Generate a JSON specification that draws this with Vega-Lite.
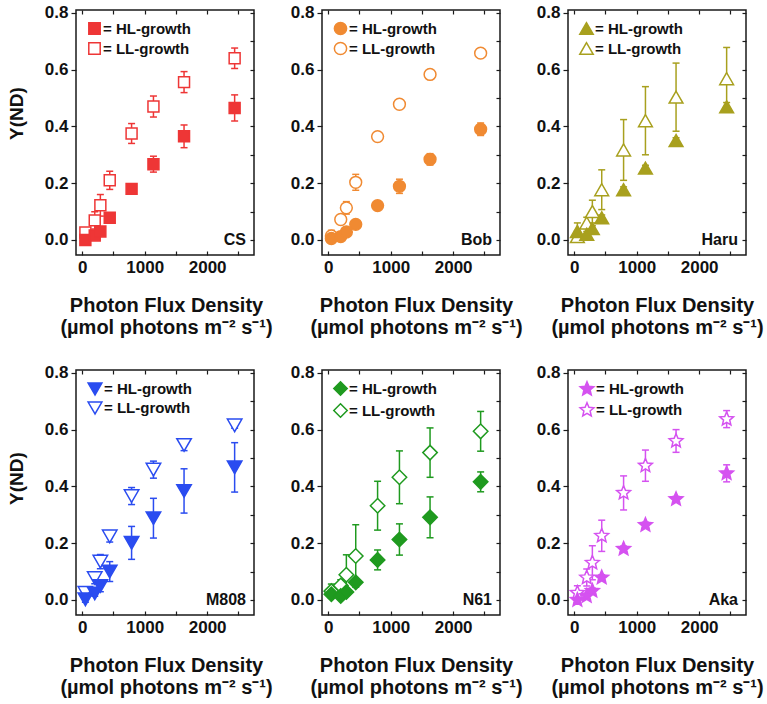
{
  "$schema": "https://vega.github.io/schema/vega-lite/v6.json",
  "background": "white",
  "padding": {"left": 6, "top": 3, "right": 0, "bottom": 0},
  "data": {"values": [
    {"s":"CS","g":"LL-growth","x":50,"y":0.026,"lo":0.011,"hi":0.041},
    {"s":"CS","g":"LL-growth","x":200,"y":0.069,"lo":0.039,"hi":0.099},
    {"s":"CS","g":"LL-growth","x":290,"y":0.122,"lo":0.084,"hi":0.160},
    {"s":"CS","g":"LL-growth","x":440,"y":0.210,"lo":0.178,"hi":0.242},
    {"s":"CS","g":"LL-growth","x":790,"y":0.375,"lo":0.340,"hi":0.410},
    {"s":"CS","g":"LL-growth","x":1140,"y":0.470,"lo":0.433,"hi":0.507},
    {"s":"CS","g":"LL-growth","x":1630,"y":0.556,"lo":0.519,"hi":0.593},
    {"s":"CS","g":"LL-growth","x":2440,"y":0.640,"lo":0.604,"hi":0.676},
    {"s":"CS","g":"HL-growth","x":50,"y":0.000,"lo":-0.008,"hi":0.008},
    {"s":"CS","g":"HL-growth","x":200,"y":0.016,"lo":0.006,"hi":0.026},
    {"s":"CS","g":"HL-growth","x":290,"y":0.030,"lo":0.020,"hi":0.040},
    {"s":"CS","g":"HL-growth","x":440,"y":0.078,"lo":0.068,"hi":0.088},
    {"s":"CS","g":"HL-growth","x":790,"y":0.180,"lo":0.165,"hi":0.195},
    {"s":"CS","g":"HL-growth","x":1140,"y":0.267,"lo":0.239,"hi":0.295},
    {"s":"CS","g":"HL-growth","x":1630,"y":0.365,"lo":0.325,"hi":0.405},
    {"s":"CS","g":"HL-growth","x":2440,"y":0.465,"lo":0.419,"hi":0.511},

    {"s":"Bob","g":"LL-growth","x":50,"y":0.014,"lo":-0.006,"hi":0.034},
    {"s":"Bob","g":"LL-growth","x":200,"y":0.072,"lo":0.062,"hi":0.082},
    {"s":"Bob","g":"LL-growth","x":290,"y":0.113,"lo":0.091,"hi":0.135},
    {"s":"Bob","g":"LL-growth","x":440,"y":0.203,"lo":0.175,"hi":0.231},
    {"s":"Bob","g":"LL-growth","x":790,"y":0.364,"lo":0.356,"hi":0.372},
    {"s":"Bob","g":"LL-growth","x":1140,"y":0.478,"lo":0.468,"hi":0.488},
    {"s":"Bob","g":"LL-growth","x":1630,"y":0.583,"lo":0.571,"hi":0.595},
    {"s":"Bob","g":"LL-growth","x":2440,"y":0.658,"lo":0.650,"hi":0.666},
    {"s":"Bob","g":"HL-growth","x":50,"y":0.005,"lo":0.000,"hi":0.010},
    {"s":"Bob","g":"HL-growth","x":200,"y":0.012,"lo":0.007,"hi":0.017},
    {"s":"Bob","g":"HL-growth","x":290,"y":0.028,"lo":0.020,"hi":0.036},
    {"s":"Bob","g":"HL-growth","x":440,"y":0.055,"lo":0.047,"hi":0.063},
    {"s":"Bob","g":"HL-growth","x":790,"y":0.121,"lo":0.109,"hi":0.133},
    {"s":"Bob","g":"HL-growth","x":1140,"y":0.189,"lo":0.164,"hi":0.214},
    {"s":"Bob","g":"HL-growth","x":1630,"y":0.284,"lo":0.264,"hi":0.304},
    {"s":"Bob","g":"HL-growth","x":2440,"y":0.390,"lo":0.368,"hi":0.412},

    {"s":"Haru","g":"LL-growth","x":50,"y":0.012,"lo":-0.008,"hi":0.032},
    {"s":"Haru","g":"LL-growth","x":200,"y":0.060,"lo":0.040,"hi":0.080},
    {"s":"Haru","g":"LL-growth","x":290,"y":0.100,"lo":0.060,"hi":0.140},
    {"s":"Haru","g":"LL-growth","x":440,"y":0.177,"lo":0.107,"hi":0.247},
    {"s":"Haru","g":"LL-growth","x":790,"y":0.317,"lo":0.210,"hi":0.424},
    {"s":"Haru","g":"LL-growth","x":1140,"y":0.420,"lo":0.300,"hi":0.540},
    {"s":"Haru","g":"LL-growth","x":1630,"y":0.503,"lo":0.383,"hi":0.623},
    {"s":"Haru","g":"LL-growth","x":2440,"y":0.568,"lo":0.458,"hi":0.678},
    {"s":"Haru","g":"HL-growth","x":50,"y":0.030,"lo":0.000,"hi":0.060},
    {"s":"Haru","g":"HL-growth","x":200,"y":0.020,"lo":0.010,"hi":0.030},
    {"s":"Haru","g":"HL-growth","x":290,"y":0.040,"lo":0.030,"hi":0.050},
    {"s":"Haru","g":"HL-growth","x":440,"y":0.078,"lo":0.068,"hi":0.088},
    {"s":"Haru","g":"HL-growth","x":790,"y":0.177,"lo":0.167,"hi":0.187},
    {"s":"Haru","g":"HL-growth","x":1140,"y":0.253,"lo":0.243,"hi":0.263},
    {"s":"Haru","g":"HL-growth","x":1630,"y":0.350,"lo":0.340,"hi":0.360},
    {"s":"Haru","g":"HL-growth","x":2440,"y":0.469,"lo":0.454,"hi":0.484},

    {"s":"M808","g":"LL-growth","x":50,"y":0.025,"lo":0.015,"hi":0.035},
    {"s":"M808","g":"LL-growth","x":200,"y":0.077,"lo":0.057,"hi":0.097},
    {"s":"M808","g":"LL-growth","x":290,"y":0.135,"lo":0.110,"hi":0.160},
    {"s":"M808","g":"LL-growth","x":440,"y":0.224,"lo":0.204,"hi":0.244},
    {"s":"M808","g":"LL-growth","x":790,"y":0.366,"lo":0.336,"hi":0.396},
    {"s":"M808","g":"LL-growth","x":1140,"y":0.459,"lo":0.429,"hi":0.489},
    {"s":"M808","g":"LL-growth","x":1630,"y":0.546,"lo":0.526,"hi":0.566},
    {"s":"M808","g":"LL-growth","x":2440,"y":0.615,"lo":0.605,"hi":0.625},
    {"s":"M808","g":"HL-growth","x":50,"y":0.002,"lo":-0.008,"hi":0.012},
    {"s":"M808","g":"HL-growth","x":200,"y":0.023,"lo":0.013,"hi":0.033},
    {"s":"M808","g":"HL-growth","x":290,"y":0.049,"lo":0.029,"hi":0.069},
    {"s":"M808","g":"HL-growth","x":440,"y":0.100,"lo":0.065,"hi":0.135},
    {"s":"M808","g":"HL-growth","x":790,"y":0.201,"lo":0.143,"hi":0.259},
    {"s":"M808","g":"HL-growth","x":1140,"y":0.288,"lo":0.218,"hi":0.358},
    {"s":"M808","g":"HL-growth","x":1630,"y":0.384,"lo":0.306,"hi":0.462},
    {"s":"M808","g":"HL-growth","x":2440,"y":0.467,"lo":0.380,"hi":0.554},

    {"s":"N61","g":"LL-growth","x":50,"y":0.031,"lo":0.006,"hi":0.056},
    {"s":"N61","g":"LL-growth","x":200,"y":0.051,"lo":0.031,"hi":0.071},
    {"s":"N61","g":"LL-growth","x":290,"y":0.089,"lo":0.019,"hi":0.159},
    {"s":"N61","g":"LL-growth","x":440,"y":0.155,"lo":0.045,"hi":0.265},
    {"s":"N61","g":"LL-growth","x":790,"y":0.332,"lo":0.246,"hi":0.418},
    {"s":"N61","g":"LL-growth","x":1140,"y":0.432,"lo":0.339,"hi":0.525},
    {"s":"N61","g":"LL-growth","x":1630,"y":0.519,"lo":0.432,"hi":0.606},
    {"s":"N61","g":"LL-growth","x":2440,"y":0.594,"lo":0.524,"hi":0.664},
    {"s":"N61","g":"HL-growth","x":50,"y":0.020,"lo":0.010,"hi":0.030},
    {"s":"N61","g":"HL-growth","x":200,"y":0.014,"lo":0.004,"hi":0.024},
    {"s":"N61","g":"HL-growth","x":290,"y":0.028,"lo":0.018,"hi":0.038},
    {"s":"N61","g":"HL-growth","x":440,"y":0.062,"lo":0.052,"hi":0.072},
    {"s":"N61","g":"HL-growth","x":790,"y":0.141,"lo":0.106,"hi":0.176},
    {"s":"N61","g":"HL-growth","x":1140,"y":0.213,"lo":0.158,"hi":0.268},
    {"s":"N61","g":"HL-growth","x":1630,"y":0.291,"lo":0.219,"hi":0.363},
    {"s":"N61","g":"HL-growth","x":2440,"y":0.416,"lo":0.381,"hi":0.451},

    {"s":"Aka","g":"LL-growth","x":50,"y":0.025,"lo":0.000,"hi":0.050},
    {"s":"Aka","g":"LL-growth","x":200,"y":0.079,"lo":0.049,"hi":0.109},
    {"s":"Aka","g":"LL-growth","x":290,"y":0.131,"lo":0.071,"hi":0.191},
    {"s":"Aka","g":"LL-growth","x":440,"y":0.226,"lo":0.171,"hi":0.281},
    {"s":"Aka","g":"LL-growth","x":790,"y":0.377,"lo":0.317,"hi":0.437},
    {"s":"Aka","g":"LL-growth","x":1140,"y":0.473,"lo":0.418,"hi":0.528},
    {"s":"Aka","g":"LL-growth","x":1630,"y":0.560,"lo":0.520,"hi":0.600},
    {"s":"Aka","g":"LL-growth","x":2440,"y":0.637,"lo":0.607,"hi":0.667},
    {"s":"Aka","g":"HL-growth","x":50,"y":0.000,"lo":-0.010,"hi":0.010},
    {"s":"Aka","g":"HL-growth","x":200,"y":0.014,"lo":0.004,"hi":0.024},
    {"s":"Aka","g":"HL-growth","x":290,"y":0.032,"lo":0.022,"hi":0.042},
    {"s":"Aka","g":"HL-growth","x":440,"y":0.079,"lo":0.069,"hi":0.089},
    {"s":"Aka","g":"HL-growth","x":790,"y":0.180,"lo":0.170,"hi":0.190},
    {"s":"Aka","g":"HL-growth","x":1140,"y":0.264,"lo":0.254,"hi":0.274},
    {"s":"Aka","g":"HL-growth","x":1630,"y":0.355,"lo":0.345,"hi":0.365},
    {"s":"Aka","g":"HL-growth","x":2440,"y":0.446,"lo":0.416,"hi":0.476}
  ]},
  "columns": 3,
  "spacing": {"row": 115, "column": 68},
  "bounds": "flush",
  "resolve": {"scale": {"fill": "independent"}, "legend": {"fill": "independent"}},
  "concat": [
    {
      "width": 178, "height": 245,
      "transform": [{"filter": "datum.s === 'CS'"}],
      "layer": [
        {"mark": {"type": "rule", "color": "#ee3636", "strokeWidth": 1.5},
         "encoding": {
           "x": {"field": "x", "type": "quantitative", "scale": {"domain": [-100, 2750], "nice": false, "zero": false},
                 "axis": {"orient": "bottom", "values": [0,500,1000,1500,2000,2500], "format": "d", "labelExpr": "datum.value % 1000 === 0 ? datum.label : ''", "tickSize": -4, "labelPadding": 8, "titleX": 90, "title": ["Photon Flux Density", "(µmol photons m⁻² s⁻¹)"]}},
           "y": {"field": "lo", "type": "quantitative", "scale": {"domain": [-0.053, 0.81], "nice": false, "zero": false},
                 "axis": {"orient": "left", "values": [0,0.2,0.4,0.6,0.8], "format": ".1f", "tickSize": 5, "labelPadding": 3, "titleY": 103, "title": "Y(ND)"}},
           "y2": {"field": "hi"}}},
        {"mark": {"type": "tick", "orient": "horizontal", "color": "#ee3636", "thickness": 1.5, "size": 7, "opacity": 1},
         "encoding": {
           "x": {"field": "x", "type": "quantitative", "axis": {"orient": "top", "values": [0,500,1000,1500,2000,2500], "labels": false, "tickSize": -4, "title": null}},
           "y": {"field": "hi", "type": "quantitative", "axis": {"orient": "right", "values": [0,0.1,0.2,0.3,0.4,0.5,0.6,0.7,0.8], "labels": false, "tickSize": -4, "title": null}}}},
        {"mark": {"type": "tick", "orient": "horizontal", "color": "#ee3636", "thickness": 1.5, "size": 7, "opacity": 1},
         "encoding": {
           "x": {"field": "x", "type": "quantitative", "axis": null},
           "y": {"field": "lo", "type": "quantitative", "axis": null}}},
        {"mark": {"type": "point", "shape": "square", "size": 120, "filled": true, "opacity": 1, "stroke": "#ee3636", "strokeWidth": 1.5},
         "encoding": {
           "x": {"field": "x", "type": "quantitative", "axis": null},
           "y": {"field": "y", "type": "quantitative", "axis": null},
           "fill": {"field": "g", "type": "nominal", "scale": {"domain": ["HL-growth", "LL-growth"], "range": ["#ee3636", "white"]},
                    "legend": {"labelExpr": "'= ' + datum.label", "symbolType": "square", "symbolStrokeColor": "#ee3636", "symbolSize": 130}}}},
        {"transform": [{"aggregate": [{"op": "count", "as": "n"}], "groupby": ["s"]}],
         "mark": {"type": "text", "align": "right", "baseline": "middle", "dx": -8, "font": "Liberation Sans", "fontWeight": "bold", "fontSize": 16, "color": "#111"},
         "encoding": {
           "x": {"datum": 2750, "type": "quantitative", "axis": null},
           "y": {"datum": 0, "type": "quantitative", "axis": null},
           "text": {"field": "s"}}}
      ]
    },
    {
      "width": 178, "height": 245,
      "transform": [{"filter": "datum.s === 'Bob'"}],
      "layer": [
        {"mark": {"type": "rule", "color": "#f08a32", "strokeWidth": 1.5},
         "encoding": {
           "x": {"field": "x", "type": "quantitative", "scale": {"domain": [-100, 2750], "nice": false, "zero": false},
                 "axis": {"orient": "bottom", "values": [0,500,1000,1500,2000,2500], "format": "d", "labelExpr": "datum.value % 1000 === 0 ? datum.label : ''", "tickSize": -4, "labelPadding": 8, "titleX": 94, "title": ["Photon Flux Density", "(µmol photons m⁻² s⁻¹)"]}},
           "y": {"field": "lo", "type": "quantitative", "scale": {"domain": [-0.053, 0.81], "nice": false, "zero": false},
                 "axis": {"orient": "left", "values": [0,0.2,0.4,0.6,0.8], "format": ".1f", "tickSize": 5, "labelPadding": 3, "title": null}},
           "y2": {"field": "hi"}}},
        {"mark": {"type": "tick", "orient": "horizontal", "color": "#f08a32", "thickness": 1.5, "size": 7, "opacity": 1},
         "encoding": {
           "x": {"field": "x", "type": "quantitative", "axis": {"orient": "top", "values": [0,500,1000,1500,2000,2500], "labels": false, "tickSize": -4, "title": null}},
           "y": {"field": "hi", "type": "quantitative", "axis": {"orient": "right", "values": [0,0.1,0.2,0.3,0.4,0.5,0.6,0.7,0.8], "labels": false, "tickSize": -4, "title": null}}}},
        {"mark": {"type": "tick", "orient": "horizontal", "color": "#f08a32", "thickness": 1.5, "size": 7, "opacity": 1},
         "encoding": {
           "x": {"field": "x", "type": "quantitative", "axis": null},
           "y": {"field": "lo", "type": "quantitative", "axis": null}}},
        {"mark": {"type": "point", "shape": "circle", "size": 140, "filled": true, "opacity": 1, "stroke": "#f08a32", "strokeWidth": 1.5},
         "encoding": {
           "x": {"field": "x", "type": "quantitative", "axis": null},
           "y": {"field": "y", "type": "quantitative", "axis": null},
           "fill": {"field": "g", "type": "nominal", "scale": {"domain": ["HL-growth", "LL-growth"], "range": ["#f08a32", "white"]},
                    "legend": {"labelExpr": "'= ' + datum.label", "symbolType": "circle", "symbolStrokeColor": "#f08a32", "symbolSize": 150}}}},
        {"transform": [{"aggregate": [{"op": "count", "as": "n"}], "groupby": ["s"]}],
         "mark": {"type": "text", "align": "right", "baseline": "middle", "dx": -8, "font": "Liberation Sans", "fontWeight": "bold", "fontSize": 16, "color": "#111"},
         "encoding": {
           "x": {"datum": 2750, "type": "quantitative", "axis": null},
           "y": {"datum": 0, "type": "quantitative", "axis": null},
           "text": {"field": "s"}}}
      ]
    },
    {
      "width": 178, "height": 245,
      "transform": [{"filter": "datum.s === 'Haru'"}],
      "layer": [
        {"mark": {"type": "rule", "color": "#a8a01e", "strokeWidth": 1.5},
         "encoding": {
           "x": {"field": "x", "type": "quantitative", "scale": {"domain": [-100, 2750], "nice": false, "zero": false},
                 "axis": {"orient": "bottom", "values": [0,500,1000,1500,2000,2500], "format": "d", "labelExpr": "datum.value % 1000 === 0 ? datum.label : ''", "tickSize": -4, "labelPadding": 8, "titleX": 89, "title": ["Photon Flux Density", "(µmol photons m⁻² s⁻¹)"]}},
           "y": {"field": "lo", "type": "quantitative", "scale": {"domain": [-0.053, 0.81], "nice": false, "zero": false},
                 "axis": {"orient": "left", "values": [0,0.2,0.4,0.6,0.8], "format": ".1f", "tickSize": 5, "labelPadding": 3, "title": null}},
           "y2": {"field": "hi"}}},
        {"mark": {"type": "tick", "orient": "horizontal", "color": "#a8a01e", "thickness": 1.5, "size": 7, "opacity": 1},
         "encoding": {
           "x": {"field": "x", "type": "quantitative", "axis": {"orient": "top", "values": [0,500,1000,1500,2000,2500], "labels": false, "tickSize": -4, "title": null}},
           "y": {"field": "hi", "type": "quantitative", "axis": {"orient": "right", "values": [0,0.1,0.2,0.3,0.4,0.5,0.6,0.7,0.8], "labels": false, "tickSize": -4, "title": null}}}},
        {"mark": {"type": "tick", "orient": "horizontal", "color": "#a8a01e", "thickness": 1.5, "size": 7, "opacity": 1},
         "encoding": {
           "x": {"field": "x", "type": "quantitative", "axis": null},
           "y": {"field": "lo", "type": "quantitative", "axis": null}}},
        {"mark": {"type": "point", "shape": "triangle-up", "size": 190, "filled": true, "opacity": 1, "stroke": "#a8a01e", "strokeWidth": 1.5},
         "encoding": {
           "x": {"field": "x", "type": "quantitative", "axis": null},
           "y": {"field": "y", "type": "quantitative", "axis": null},
           "fill": {"field": "g", "type": "nominal", "scale": {"domain": ["HL-growth", "LL-growth"], "range": ["#a8a01e", "white"]},
                    "legend": {"labelExpr": "'= ' + datum.label", "symbolType": "triangle-up", "symbolStrokeColor": "#a8a01e", "symbolSize": 180}}}},
        {"transform": [{"aggregate": [{"op": "count", "as": "n"}], "groupby": ["s"]}],
         "mark": {"type": "text", "align": "right", "baseline": "middle", "dx": -8, "font": "Liberation Sans", "fontWeight": "bold", "fontSize": 16, "color": "#111"},
         "encoding": {
           "x": {"datum": 2750, "type": "quantitative", "axis": null},
           "y": {"datum": 0, "type": "quantitative", "axis": null},
           "text": {"field": "s"}}}
      ]
    },
    {
      "width": 178, "height": 245,
      "transform": [{"filter": "datum.s === 'M808'"}],
      "layer": [
        {"mark": {"type": "rule", "color": "#2a4cf0", "strokeWidth": 1.5},
         "encoding": {
           "x": {"field": "x", "type": "quantitative", "scale": {"domain": [-100, 2750], "nice": false, "zero": false},
                 "axis": {"orient": "bottom", "values": [0,500,1000,1500,2000,2500], "format": "d", "labelExpr": "datum.value % 1000 === 0 ? datum.label : ''", "tickSize": -4, "labelPadding": 8, "titleX": 90, "title": ["Photon Flux Density", "(µmol photons m⁻² s⁻¹)"]}},
           "y": {"field": "lo", "type": "quantitative", "scale": {"domain": [-0.053, 0.81], "nice": false, "zero": false},
                 "axis": {"orient": "left", "values": [0,0.2,0.4,0.6,0.8], "format": ".1f", "tickSize": 5, "labelPadding": 3, "titleY": 108, "title": "Y(ND)"}},
           "y2": {"field": "hi"}}},
        {"mark": {"type": "tick", "orient": "horizontal", "color": "#2a4cf0", "thickness": 1.5, "size": 7, "opacity": 1},
         "encoding": {
           "x": {"field": "x", "type": "quantitative", "axis": {"orient": "top", "values": [0,500,1000,1500,2000,2500], "labels": false, "tickSize": -4, "title": null}},
           "y": {"field": "hi", "type": "quantitative", "axis": {"orient": "right", "values": [0,0.1,0.2,0.3,0.4,0.5,0.6,0.7,0.8], "labels": false, "tickSize": -4, "title": null}}}},
        {"mark": {"type": "tick", "orient": "horizontal", "color": "#2a4cf0", "thickness": 1.5, "size": 7, "opacity": 1},
         "encoding": {
           "x": {"field": "x", "type": "quantitative", "axis": null},
           "y": {"field": "lo", "type": "quantitative", "axis": null}}},
        {"mark": {"type": "point", "shape": "triangle-down", "size": 210, "filled": true, "opacity": 1, "stroke": "#2a4cf0", "strokeWidth": 1.5},
         "encoding": {
           "x": {"field": "x", "type": "quantitative", "axis": null},
           "y": {"field": "y", "type": "quantitative", "axis": null},
           "fill": {"field": "g", "type": "nominal", "scale": {"domain": ["HL-growth", "LL-growth"], "range": ["#2a4cf0", "white"]},
                    "legend": {"labelExpr": "'= ' + datum.label", "symbolType": "triangle-down", "symbolStrokeColor": "#2a4cf0", "symbolSize": 190}}}},
        {"transform": [{"aggregate": [{"op": "count", "as": "n"}], "groupby": ["s"]}],
         "mark": {"type": "text", "align": "right", "baseline": "middle", "dx": -8, "font": "Liberation Sans", "fontWeight": "bold", "fontSize": 16, "color": "#111"},
         "encoding": {
           "x": {"datum": 2750, "type": "quantitative", "axis": null},
           "y": {"datum": 0, "type": "quantitative", "axis": null},
           "text": {"field": "s"}}}
      ]
    },
    {
      "width": 178, "height": 245,
      "transform": [{"filter": "datum.s === 'N61'"}],
      "layer": [
        {"mark": {"type": "rule", "color": "#1f9a1f", "strokeWidth": 1.5},
         "encoding": {
           "x": {"field": "x", "type": "quantitative", "scale": {"domain": [-100, 2750], "nice": false, "zero": false},
                 "axis": {"orient": "bottom", "values": [0,500,1000,1500,2000,2500], "format": "d", "labelExpr": "datum.value % 1000 === 0 ? datum.label : ''", "tickSize": -4, "labelPadding": 8, "titleX": 94, "title": ["Photon Flux Density", "(µmol photons m⁻² s⁻¹)"]}},
           "y": {"field": "lo", "type": "quantitative", "scale": {"domain": [-0.053, 0.81], "nice": false, "zero": false},
                 "axis": {"orient": "left", "values": [0,0.2,0.4,0.6,0.8], "format": ".1f", "tickSize": 5, "labelPadding": 3, "title": null}},
           "y2": {"field": "hi"}}},
        {"mark": {"type": "tick", "orient": "horizontal", "color": "#1f9a1f", "thickness": 1.5, "size": 7, "opacity": 1},
         "encoding": {
           "x": {"field": "x", "type": "quantitative", "axis": {"orient": "top", "values": [0,500,1000,1500,2000,2500], "labels": false, "tickSize": -4, "title": null}},
           "y": {"field": "hi", "type": "quantitative", "axis": {"orient": "right", "values": [0,0.1,0.2,0.3,0.4,0.5,0.6,0.7,0.8], "labels": false, "tickSize": -4, "title": null}}}},
        {"mark": {"type": "tick", "orient": "horizontal", "color": "#1f9a1f", "thickness": 1.5, "size": 7, "opacity": 1},
         "encoding": {
           "x": {"field": "x", "type": "quantitative", "axis": null},
           "y": {"field": "lo", "type": "quantitative", "axis": null}}},
        {"mark": {"type": "point", "shape": "diamond", "size": 210, "filled": true, "opacity": 1, "stroke": "#1f9a1f", "strokeWidth": 1.5},
         "encoding": {
           "x": {"field": "x", "type": "quantitative", "axis": null},
           "y": {"field": "y", "type": "quantitative", "axis": null},
           "fill": {"field": "g", "type": "nominal", "scale": {"domain": ["HL-growth", "LL-growth"], "range": ["#1f9a1f", "white"]},
                    "legend": {"labelExpr": "'= ' + datum.label", "symbolType": "diamond", "symbolStrokeColor": "#1f9a1f", "symbolSize": 180}}}},
        {"transform": [{"aggregate": [{"op": "count", "as": "n"}], "groupby": ["s"]}],
         "mark": {"type": "text", "align": "right", "baseline": "middle", "dx": -8, "font": "Liberation Sans", "fontWeight": "bold", "fontSize": 16, "color": "#111"},
         "encoding": {
           "x": {"datum": 2750, "type": "quantitative", "axis": null},
           "y": {"datum": 0, "type": "quantitative", "axis": null},
           "text": {"field": "s"}}}
      ]
    },
    {
      "width": 178, "height": 245,
      "transform": [{"filter": "datum.s === 'Aka'"}],
      "layer": [
        {"mark": {"type": "rule", "color": "#d552f0", "strokeWidth": 1.5},
         "encoding": {
           "x": {"field": "x", "type": "quantitative", "scale": {"domain": [-100, 2750], "nice": false, "zero": false},
                 "axis": {"orient": "bottom", "values": [0,500,1000,1500,2000,2500], "format": "d", "labelExpr": "datum.value % 1000 === 0 ? datum.label : ''", "tickSize": -4, "labelPadding": 8, "titleX": 89, "title": ["Photon Flux Density", "(µmol photons m⁻² s⁻¹)"]}},
           "y": {"field": "lo", "type": "quantitative", "scale": {"domain": [-0.053, 0.81], "nice": false, "zero": false},
                 "axis": {"orient": "left", "values": [0,0.2,0.4,0.6,0.8], "format": ".1f", "tickSize": 5, "labelPadding": 3, "title": null}},
           "y2": {"field": "hi"}}},
        {"mark": {"type": "tick", "orient": "horizontal", "color": "#d552f0", "thickness": 1.5, "size": 7, "opacity": 1},
         "encoding": {
           "x": {"field": "x", "type": "quantitative", "axis": {"orient": "top", "values": [0,500,1000,1500,2000,2500], "labels": false, "tickSize": -4, "title": null}},
           "y": {"field": "hi", "type": "quantitative", "axis": {"orient": "right", "values": [0,0.1,0.2,0.3,0.4,0.5,0.6,0.7,0.8], "labels": false, "tickSize": -4, "title": null}}}},
        {"mark": {"type": "tick", "orient": "horizontal", "color": "#d552f0", "thickness": 1.5, "size": 7, "opacity": 1},
         "encoding": {
           "x": {"field": "x", "type": "quantitative", "axis": null},
           "y": {"field": "lo", "type": "quantitative", "axis": null}}},
        {"mark": {"type": "point", "shape": "M0,-1L0.265,-0.364L0.951,-0.309L0.428,0.139L0.588,0.809L0,0.45L-0.588,0.809L-0.428,0.139L-0.951,-0.309L-0.265,-0.364Z", "size": 210, "filled": true, "opacity": 1, "stroke": "#d552f0", "strokeWidth": 1.5},
         "encoding": {
           "x": {"field": "x", "type": "quantitative", "axis": null},
           "y": {"field": "y", "type": "quantitative", "axis": null},
           "fill": {"field": "g", "type": "nominal", "scale": {"domain": ["HL-growth", "LL-growth"], "range": ["#d552f0", "white"]},
                    "legend": {"labelExpr": "'= ' + datum.label", "symbolType": "M0,-1L0.265,-0.364L0.951,-0.309L0.428,0.139L0.588,0.809L0,0.45L-0.588,0.809L-0.428,0.139L-0.951,-0.309L-0.265,-0.364Z", "symbolStrokeColor": "#d552f0", "symbolSize": 210}}}},
        {"transform": [{"aggregate": [{"op": "count", "as": "n"}], "groupby": ["s"]}],
         "mark": {"type": "text", "align": "right", "baseline": "middle", "dx": -8, "font": "Liberation Sans", "fontWeight": "bold", "fontSize": 16, "color": "#111"},
         "encoding": {
           "x": {"datum": 2750, "type": "quantitative", "axis": null},
           "y": {"datum": 0, "type": "quantitative", "axis": null},
           "text": {"field": "s"}}}
      ]
    }
  ],
  "config": {
    "font": "Liberation Sans",
    "view": {"stroke": "#1a1a1a", "strokeWidth": 1.5},
    "axis": {"grid": false, "domain": false, "labelFont": "Liberation Sans", "labelFontSize": 17, "labelFontWeight": "bold", "labelColor": "#111", "titleFont": "Liberation Sans", "titleFontSize": 20, "titleFontWeight": "bold", "titleColor": "#111", "titleLineHeight": 22, "titlePadding": 20, "tickColor": "#1a1a1a", "tickWidth": 1.2, "labelOverlap": false, "labelFlush": false},
    "axisY": {"titlePadding": 18, "titleFontSize": 19},
    "legend": {"orient": "top-left", "offset": 11, "title": null, "padding": 0, "labelFont": "Liberation Sans", "labelFontWeight": "bold", "labelFontSize": 15, "labelColor": "#111", "labelOffset": 1, "rowPadding": 1, "symbolStrokeWidth": 1.5}
  }
}
